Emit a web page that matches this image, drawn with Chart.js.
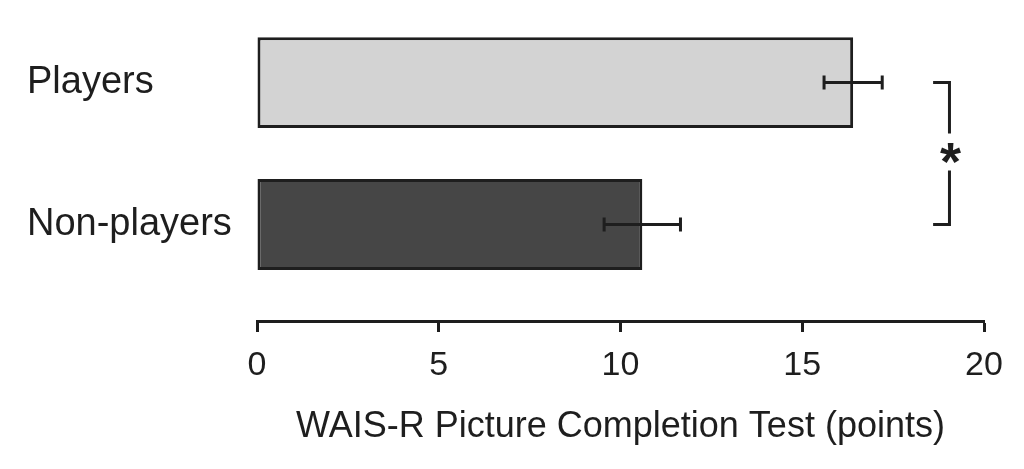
<!DOCTYPE html>
<html>
<head>
<meta charset="utf-8">
<script src="https://cdn.jsdelivr.net/npm/chart.js@4"></script>
<style>
  html, body { margin: 0; padding: 0; background: #ffffff; }
  #wrap { width: 1024px; height: 469px; position: relative; }
</style>
</head>
<body>
<div id="wrap"><canvas id="c" width="1024" height="469"></canvas></div>
<script>
// ---- data ----
const categories = ['Players', 'Non-players'];
const means = [16.4, 10.6];
const errors = [0.8, 1.05];
const xTicks = [0, 5, 10, 15, 20];
const axisTitle = 'WAIS-R Picture Completion Test (points)';
const significanceMark = '*';

// ---- styles ----
const barColors = ['#d3d3d3', '#464646'];
const ink = '#1e1e1e';
const fontFamily = 'Arial, "Liberation Sans", sans-serif';

const errorBarPlugin = {
  id: 'errorBars',
  afterDatasetsDraw(chart) {
    const { ctx, scales: { x, y } } = chart;
    ctx.save();
    ctx.strokeStyle = ink;
    ctx.lineWidth = 3;
    means.forEach((m, i) => {
      const yc = y.getPixelForValue(i);
      const x1 = x.getPixelForValue(m - errors[i]);
      const x2 = x.getPixelForValue(m + errors[i]);
      ctx.beginPath();
      ctx.moveTo(x1, yc); ctx.lineTo(x2, yc);
      ctx.moveTo(x1, yc - 7); ctx.lineTo(x1, yc + 7);
      ctx.moveTo(x2, yc - 7); ctx.lineTo(x2, yc + 7);
      ctx.stroke();
    });
    // significance bracket
    const bx = x.getPixelForValue(19.05);
    const armX = x.getPixelForValue(18.6);
    const y0 = y.getPixelForValue(0);
    const y1 = y.getPixelForValue(1);
    const ym = (y0 + y1) / 2;
    ctx.beginPath();
    ctx.moveTo(armX, y0); ctx.lineTo(bx, y0); ctx.lineTo(bx, ym - 20);
    ctx.moveTo(bx, ym + 17); ctx.lineTo(bx, y1); ctx.lineTo(armX, y1);
    ctx.stroke();
    ctx.fillStyle = ink;
    ctx.font = 'bold 54px ' + fontFamily;
    ctx.textAlign = 'center';
    ctx.textBaseline = 'middle';
    ctx.fillText(significanceMark, bx + 1, ym + 12);
    ctx.restore();
  }
};

new Chart(document.getElementById('c'), {
  type: 'bar',
  data: {
    datasets: [{
      data: means.map((m, i) => ({ x: m, y: i })),
      backgroundColor: barColors,
      borderColor: ink,
      borderWidth: 3,
      borderSkipped: false,
      barPercentage: 0.8,
      categoryPercentage: 0.8
    }]
  },
  options: {
    indexAxis: 'y',
    responsive: false,
    animation: false,
    devicePixelRatio: 1,
    layout: { padding: { left: 27, right: 40, top: 8, bottom: 20 } },
    plugins: { legend: { display: false }, tooltip: { enabled: false } },
    scales: {
      y: {
        type: 'linear',
        reverse: true,
        offset: false,
        bounds: 'data',
        min: -0.4,
        max: 1.68,
        afterBuildTicks: (s) => { s.ticks = categories.map((_, i) => ({ value: i })); },
        afterFit: (s) => { s.width = 230; },
        grid: { display: false },
        border: { display: false },
        ticks: {
          crossAlign: 'far',
          color: ink,
          font: { family: fontFamily, size: 38 },
          callback: (v) => categories[v] ?? ''
        }
      },
      x: {
        type: 'linear',
        min: 0,
        max: 20,
        afterBuildTicks: (s) => { s.ticks = xTicks.map(v => ({ value: v })); },
        border: { display: true, color: ink, width: 3 },
        grid: { drawOnChartArea: false, drawTicks: true, tickLength: 11, tickWidth: 3, tickColor: ink },
        ticks: {
          color: ink,
          padding: 13,
          font: { family: fontFamily, size: 34 }
        },
        title: {
          display: true,
          text: axisTitle,
          color: ink,
          padding: { top: 7, bottom: 0 },
          font: { family: fontFamily, size: 36 }
        }
      }
    }
  },
  plugins: [errorBarPlugin]
});
</script>
</body>
</html>
